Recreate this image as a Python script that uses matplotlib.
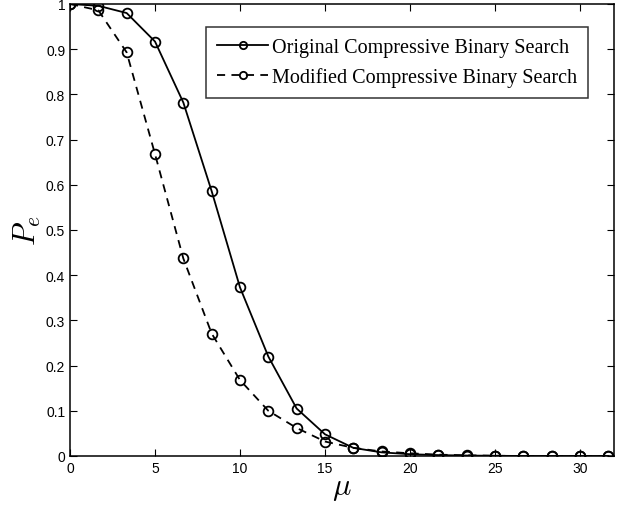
import matplotlib
matplotlib.use("Agg")
import matplotlib.pyplot as plt
import numpy as np

mu = [0, 1.667, 3.333, 5, 6.667, 8.333, 10, 11.667, 13.333, 15, 16.667,
      18.333, 20, 21.667, 23.333, 25, 26.667, 28.333, 30, 31.667]
original = [1.0, 0.996, 0.98, 0.917, 0.782, 0.586, 0.373, 0.22, 0.105, 0.048,
            0.018, 0.008, 0.004, 0.002, 0.001, 0.0005, 0.0, 0.0, 0.0, 0.0]
modified = [1.0, 0.986, 0.893, 0.668, 0.437, 0.271, 0.168, 0.1, 0.062, 0.032,
            0.018, 0.01, 0.006, 0.003, 0.0015, 0.0005, 0.0, 0.0, 0.0, 0.0]

plt.rcParams['mathtext.fontset'] = 'cm'
fig = plt.figure(figsize=(6.24, 5.06), dpi=100)
ax = fig.add_axes([70/624, 49/506, 544/624, 452/506])

ax.plot(mu, original, '-', color='black', lw=1.3, marker='o', ms=7,
        mfc='none', mew=1.3, label='Original Compressive Binary Search')
ax.plot(mu, modified, '--', color='black', lw=1.3, marker='o', ms=7,
        mfc='none', mew=1.3, dashes=(4.5, 3.5), label='Modified Compressive Binary Search')

ax.set_xlim(0, 32)
ax.set_ylim(0, 1)
ax.set_xticks([0, 5, 10, 15, 20, 25, 30])
ax.set_yticks(np.arange(0, 1.01, 0.1))
ax.set_yticklabels(['0', '0.1', '0.2', '0.3', '0.4', '0.5', '0.6', '0.7', '0.8', '0.9', '1'])
ax.tick_params(direction='in', top=True, right=True, labelsize=10, length=5)
for lab in ax.get_xticklabels() + ax.get_yticklabels():
    lab.set_family('Liberation Sans')
for s in ax.spines.values():
    s.set_linewidth(1.1)

ax.set_xlabel(r'$\mu$', fontsize=22, labelpad=-1)
ax.set_ylabel(r'$P_e$', fontsize=22, labelpad=2)

leg = ax.legend(loc='upper right', bbox_to_anchor=(1 - 26/544, 1 - 23/452),
                borderaxespad=0,
                prop={'family': 'Liberation Serif', 'size': 14.5},
                frameon=True, fancybox=False, edgecolor='black',
                handlelength=2.5, handletextpad=0.2, borderpad=0.55,
                labelspacing=0.5, markerscale=0.75)
leg.get_frame().set_linewidth(1.1)

fig.savefig('out.png', dpi=100)
